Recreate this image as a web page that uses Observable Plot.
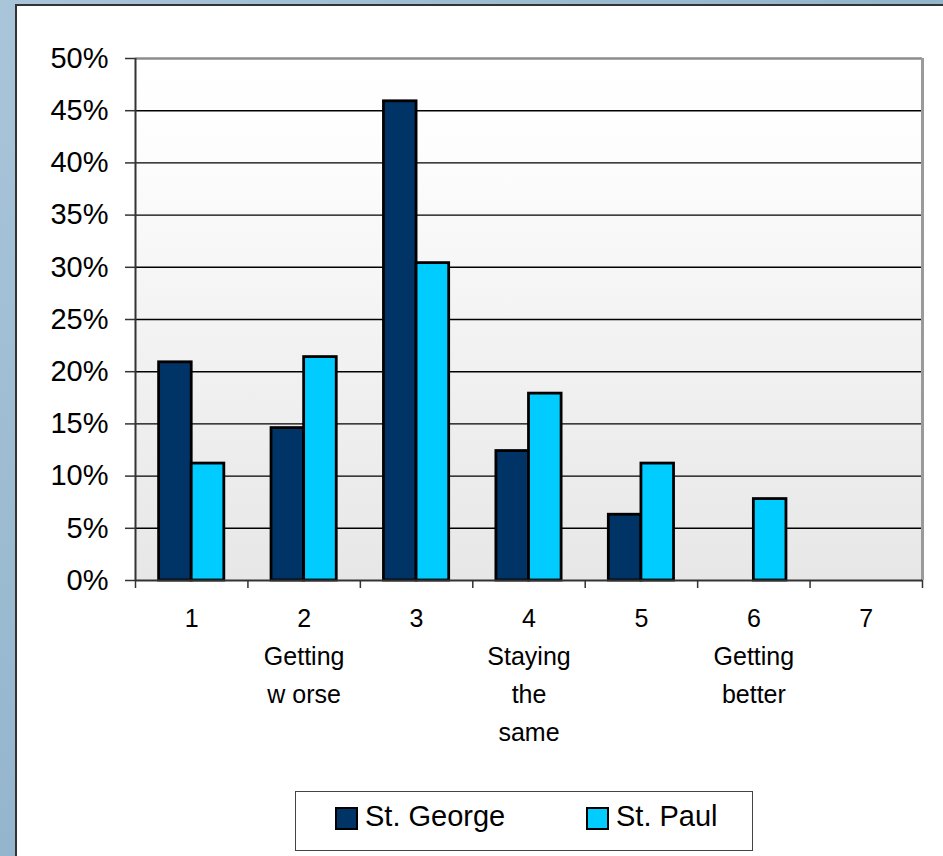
<!DOCTYPE html>
<html>
<head>
<meta charset="utf-8">
<script src="https://cdn.jsdelivr.net/npm/d3@7"></script>
<script src="https://cdn.jsdelivr.net/npm/@observablehq/plot@0.6"></script>
<style>
html, body { margin: 0; padding: 0; width: 943px; height: 856px; overflow: hidden; }
body { background: linear-gradient(135deg, #a9c5da 0%, #93b5cc 50%, #a2c0d5 100%); position: relative; font-family: "Liberation Sans", Arial, sans-serif; }
#panel { position: absolute; left: 15px; top: 4px; width: 945px; height: 870px; background: #fff; border: 2px solid #333; box-sizing: border-box; }
#chart { position: absolute; left: 0; top: 0; }
#legend { position: absolute; left: 295px; top: 791px; width: 458px; height: 60px; border: 1px solid #444; box-sizing: border-box; background: #fff; }
.item { position: absolute; top: -5px; height: 100%; display: flex; align-items: center; font-size: 29px; color: #000; }
.sw { width: 19px; height: 19px; border: 2px solid #000; margin-right: 7px; margin-top: 5px; }
</style>
</head>
<body>
<div id="panel"></div>
<div id="chart"></div>
<div id="legend"></div>
<script>
// ---- data ----
const categories = [1, 2, 3, 4, 5, 6, 7];
const categoryLabels = ["1", "2\nGetting\nw orse", "3", "4\nStaying\nthe\nsame", "5", "6\nGetting\nbetter", "7"];
const seriesNames = ["St. George", "St. Paul"];
const seriesColors = ["#003366", "#00ccff"];
const stGeorge = [20.9, 14.6, 45.9, 12.4, 6.3, 0, 0];
const stPaul = [11.2, 21.4, 30.4, 17.9, 11.2, 7.8, 0];
const yTicks = [0, 5, 10, 15, 20, 25, 30, 35, 40, 45, 50];

// ---- build table ----
const barWidth = 0.29; // fraction of category band per bar
const bars = [];
categories.forEach((c, i) => {
  [stGeorge, stPaul].forEach((arr, s) => {
    if (arr[i] > 0) {
      bars.push({
        cat: c,
        series: seriesNames[s],
        value: arr[i],
        x1: c + (s - 1) * barWidth,
        x2: c + s * barWidth
      });
    }
  });
});
const boundaries = [0.5, ...categories.map(c => c + 0.5)];
const gridVals = yTicks.filter(v => v > 0 && v < 50);

const W = 943, H = 780;
const chart = Plot.plot({
  width: W,
  height: H,
  marginLeft: 135,
  marginRight: 21,
  marginTop: 58,
  marginBottom: H - 580,
  style: { background: "transparent", fontFamily: "'Liberation Sans', Arial, sans-serif", overflow: "visible", color: "#000" },
  x: { domain: [0.5, 7.5], axis: null },
  y: { domain: [0, 50], axis: null },
  color: { domain: seriesNames, range: seriesColors },
  marks: [
    Plot.frame({ fill: "url(#bgGrad)", stroke: null }),
    Plot.ruleY(gridVals, { stroke: "#000", strokeWidth: 1.4 }),
    Plot.ruleY([50], { stroke: "#8c8c8c", strokeWidth: 2.5 }),
    Plot.ruleX([7.5], { stroke: "#9a9a9a", strokeWidth: 3 }),
    Plot.rect(bars, { x1: "x1", x2: "x2", y1: 0, y2: "value", fill: "series", stroke: "#000", strokeWidth: 2.8 }),
    Plot.ruleX([0.5], { stroke: "#333", strokeWidth: 2 }),
    Plot.ruleY([0], { stroke: "#333", strokeWidth: 2 }),
    Plot.axisY({ ticks: yTicks, label: null, tickSize: 10, tickPadding: 17, fontSize: 29, tickFormat: d => d + "%", stroke: "#333", strokeWidth: 1.5 }),
    Plot.axisX({ ticks: boundaries, label: null, tickSize: 8, tickFormat: () => "", stroke: "#333", strokeWidth: 1.5 }),
    Plot.text(categories, {
      x: d => d,
      text: (d, i) => categoryLabels[i],
      frameAnchor: "bottom",
      lineAnchor: "top",
      dy: 20,
      fontSize: 25,
      lineHeight: 1.52,
      fill: "#000"
    })
  ]
});

const defs = d3.select(chart).insert("defs", ":first-child");
const grad = defs.append("linearGradient").attr("id", "bgGrad")
  .attr("x1", 0).attr("y1", 0).attr("x2", 0).attr("y2", 1);
[[0, "#ffffff"], [0.18, "#fdfdfd"], [0.55, "#f2f2f2"], [1, "#e7e7e7"]].forEach(([o, c]) =>
  grad.append("stop").attr("offset", o).attr("stop-color", c));

document.getElementById("chart").appendChild(chart);

// ---- legend ----
const legend = document.getElementById("legend");
const legendLeft = [39, 290];
seriesNames.forEach((name, i) => {
  const item = document.createElement("div");
  item.className = "item";
  item.style.left = legendLeft[i] + "px";
  const sw = document.createElement("div");
  sw.className = "sw";
  sw.style.background = seriesColors[i];
  const label = document.createElement("span");
  label.textContent = name;
  item.appendChild(sw);
  item.appendChild(label);
  legend.appendChild(item);
});
</script>
</body>
</html>
